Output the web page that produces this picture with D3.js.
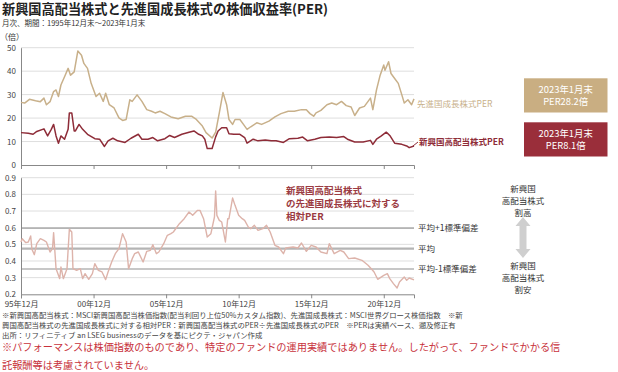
<!DOCTYPE html>
<html>
<head>
<meta charset="utf-8">
<script src="https://cdn.jsdelivr.net/npm/d3@7"></script>
<style>
  body { margin: 0; background: #fff; }
  svg text { font-family: "Noto Sans CJK JP", "Noto Sans", sans-serif; }
</style>
</head>
<body>
<div id="container"></div>
<script>
// chart values (monthly, thinned)
var growthPER = [
  ["1995-12",26.7],["1996-03",26.4],["1996-07",28],["1996-12",27.4],["1997-04",27],["1997-07",28.5],
  ["1997-09",25.7],["1997-12",27],["1998-03",31.3],["1998-05",32],["1998-07",29.2],["1998-09",34.1],
  ["1998-12",37.6],["1999-03",41.2],["1999-05",38.3],["1999-08",39.7],["1999-11",48.6],["2000-02",46.8],
  ["2000-04",43.3],["2000-07",41.2],["2000-10",34.8],["2001-02",29.2],["2001-05",30.6],["2001-08",27.1],
  ["2001-10",30.6],["2002-01",25.7],["2002-05",24.3],["2002-09",20.1],["2002-12",19],["2003-03",19.4],
  ["2003-06",27.8],["2003-08",27.1],["2003-12",29.9],["2004-04",27.1],["2004-08",23.6],["2004-12",22.9],
  ["2005-03",22.2],["2005-07",22.9],["2005-11",21.9],["2006-04",20.5],["2006-10",19.7],["2007-04",20.8],
  ["2007-09",20.8],["2008-01",19.4],["2008-06",16.6],["2008-09",13.8],["2009-02",11.5],["2009-05",14],
  ["2009-08",22.2],["2009-11",30.9],["2010-02",25.7],["2010-04",19.4],["2010-07",17.3],["2010-09",19.4],
  ["2011-01",19.4],["2011-04",17.3],["2011-07",15.2],["2011-10",16.3],["2012-03",18],["2012-07",17.3],
  ["2013-01",18.7],["2013-06",20.5],["2013-11",21.9],["2014-05",22.9],["2014-10",22.9],["2015-04",23.6],
  ["2015-08",23.6],["2015-11",21.9],["2016-02",20.8],["2016-04",22.2],["2016-08",23.3],["2017-01",25.7],
  ["2017-05",26.4],["2017-09",25.7],["2018-01",27.1],["2018-05",25.3],["2018-09",24.7],["2018-12",21.1],
  ["2019-04",24.3],["2019-08",25],["2020-01",28.5],["2020-03",23.6],["2020-06",32],["2020-09",38.3],
  ["2020-12",42.6],["2021-01",40.4],["2021-04",44],["2021-06",39],["2021-09",36.9],["2021-12",34.8],
  ["2022-03",29.9],["2022-05",26.4],["2022-08",27.8],["2022-11",25.7],["2023-01",28.2]
];

var emDivPER = [
  ["1995-12",13.8],["1996-06",13.5],["1996-10",13.1],["1997-01",14.3],["1997-07",15.4],["1997-10",12.4],
  ["1998-01",15.2],["1998-03",17.3],["1998-05",12.4],["1998-07",9.3],["1998-09",12.4],["1998-12",11],
  ["1999-03",15.2],["1999-04",22.2],["1999-06",22.2],["1999-08",14.5],["1999-09",14.5],["1999-12",17.3],
  ["2000-03",15.2],["2000-07",13.1],["2001-01",11.2],["2001-05",11],["2001-09",7.9],["2001-12",10.3],
  ["2002-04",11.4],["2002-08",10.3],["2003-02",9.6],["2003-07",11.4],["2004-01",13.1],["2004-04",11],
  ["2004-09",11],["2005-01",11.7],["2005-05",10.3],["2005-11",11.2],["2006-03",12.6],["2006-07",11.7],
  ["2007-01",13.1],["2007-07",14],["2007-11",14.5],["2008-03",13.1],["2008-06",12.4],["2008-08",11],
  ["2008-10",7],["2009-02",7],["2009-05",12],["2009-07",14.5],["2009-10",15.9],["2010-02",15.9],
  ["2010-04",13.3],["2010-08",13.1],["2011-01",13.1],["2011-05",11.7],["2011-07",9.3],["2011-12",11],
  ["2012-04",10.3],["2012-10",10.7],["2013-03",10.3],["2013-07",10.3],["2014-01",9.6],["2014-06",11.2],
  ["2015-01",11.4],["2015-05",11.9],["2015-09",10.3],["2016-03",11],["2016-08",11.7],["2017-03",11.9],
  ["2017-09",11.7],["2018-03",12.1],["2018-06",11],["2018-12",9.8],["2019-07",9.8],["2020-01",10.5],
  ["2020-03",8.8],["2020-06",11],["2020-10",12.4],["2021-02",14],["2021-05",12.6],["2021-09",9.3],
  ["2022-03",8.8],["2022-07",8.1],["2022-09",7.4],["2023-01",8.1]
];

var relativePER = [
  ["1995-12",0.514],["1996-01",0.534],["1996-04",0.51],["1996-06",0.514],["1996-08",0.55],["1996-09",0.47],
  ["1996-11",0.438],["1997-01",0.504],["1997-04",0.534],["1997-07",0.524],["1997-09",0.514],["1997-12",0.454],
  ["1998-02",0.474],["1998-03",0.57],["1998-05",0.354],["1998-06",0.334],["1998-08",0.294],["1998-09",0.364],
  ["1998-11",0.294],["1999-02",0.354],["1999-04",0.59],["1999-06",0.574],["1999-07",0.354],["1999-10",0.344],
  ["2000-01",0.354],["2000-03",0.294],["2000-05",0.324],["2000-08",0.29],["2000-11",0.324],["2001-01",0.384],
  ["2001-04",0.344],["2001-07",0.334],["2001-10",0.288],["2001-12",0.334],["2002-03",0.394],["2002-06",0.444],
  ["2002-09",0.474],["2002-12",0.564],["2003-03",0.514],["2003-05",0.354],["2003-08",0.414],["2003-10",0.444],
  ["2004-01",0.454],["2004-05",0.394],["2004-08",0.458],["2004-11",0.464],["2005-01",0.498],["2005-04",0.444],
  ["2005-06",0.454],["2005-10",0.504],["2006-01",0.554],["2006-04",0.564],["2006-06",0.574],["2006-11",0.624],
  ["2007-03",0.654],["2007-07",0.694],["2007-10",0.674],["2008-02",0.704],["2008-04",0.704],["2008-07",0.654],
  ["2008-10",0.544],["2009-01",0.564],["2009-04",0.664],["2009-05",0.82],["2009-06",0.674],["2009-08",0.644],
  ["2009-10",0.634],["2010-01",0.514],["2010-03",0.654],["2010-04",0.654],["2010-07",0.778],["2010-09",0.734],
  ["2010-12",0.674],["2011-03",0.654],["2011-05",0.644],["2011-08",0.604],["2011-10",0.594],["2012-01",0.614],
  ["2012-04",0.584],["2012-08",0.594],["2012-11",0.614],["2013-02",0.574],["2013-06",0.494],["2013-09",0.484],
  ["2014-01",0.444],["2014-03",0.478],["2014-09",0.484],["2015-01",0.478],["2015-04",0.508],["2015-08",0.458],
  ["2015-12",0.494],["2016-04",0.484],["2016-08",0.454],["2017-01",0.444],["2017-03",0.504],["2017-07",0.444],
  ["2017-12",0.464],["2018-03",0.454],["2018-07",0.414],["2018-12",0.418],["2019-06",0.404],["2019-11",0.374],
  ["2020-02",0.35],["2020-04",0.334],["2020-07",0.29],["2020-12",0.314],["2021-03",0.324],["2021-05",0.294],
  ["2021-08",0.264],["2021-11",0.238],["2022-01",0.274],["2022-05",0.304],["2022-07",0.284],["2022-09",0.298],
  ["2023-01",0.287]
];

// mean and +-1 std dev of the relative PER
var refValues = [0.597, 0.474, 0.352];
var refLabels = ["平均+1標準偏差", "平均", "平均-1標準偏差"];

var tickDates = ["1995-12", "2000-12", "2005-12", "2010-12", "2015-12", "2020-12"];
var tickLabels = ["95年12月", "00年12月", "05年12月", "10年12月", "15年12月", "20年12月"];
var topTicks = [0, 10, 20, 30, 40, 50];
var bottomTicks = [0.2, 0.3, 0.4, 0.5, 0.6, 0.7, 0.8, 0.9];

var footnotes = [
  "※新興国高配当株式：MSCI新興国高配当株価指数(配当利回り上位50%カスタム指数)、先進国成長株式：MSCI世界グロース株価指数　※新",
  "興国高配当株式の先進国成長株式に対する相対PER：新興国高配当株式のPER÷先進国成長株式のPER　※PERは実績ベース、遡及修正有",
  "出所：リフィニティブ an LSEG businessのデータを基にピクテ・ジャパン作成"
];
var disclaimer = [
  "※パフォーマンスは株価指数のものであり、特定のファンドの運用実績ではありません。したがって、ファンドでかかる信",
  "託報酬等は考慮されていません。"
];

var width = 618, height = 372;
var tan = "#c8b08a", wine = "#8e2c38", pink = "#ddb3aa";
var parse = d3.timeParse("%Y-%m");

var svg = d3.select("#container").append("svg")
  .attr("width", width)
  .attr("height", height);

// title
svg.append("text").attr("x", 2).attr("y", 13.5)
  .style("font-size", "13.2px").style("font-weight", "bold").attr("fill", "#222")
  .text("新興国高配当株式と先進国成長株式の株価収益率(PER)");
svg.append("text").attr("x", 2).attr("y", 25.5)
  .style("font-size", "7.5px").attr("fill", "#333")
  .text("月次、期間：1995年12月末～2023年1月末");
svg.append("text").attr("x", 0).attr("y", 40)
  .style("font-size", "8px").attr("fill", "#333")
  .text("（倍）");

// scales
var x = d3.scaleTime().domain([parse("1995-12"), parse("2023-01")]).range([21, 414]);
var yTop = d3.scaleLinear().domain([0, 50]).range([165, 47.7]);
var yBot = d3.scaleLinear().domain([0.2, 0.9]).range([294.3, 177.7]);

function styleAxis(g) {
  g.selectAll("text").attr("fill", "#444").style("font-size", "8px");
  g.selectAll(".domain").attr("stroke", "#888");
  g.selectAll(".tick line").attr("stroke", "#888");
}

// gridlines
svg.append("g").selectAll("line").data(topTicks.slice(1)).enter().append("line")
  .attr("x1", 21).attr("x2", 414)
  .attr("y1", function(d) { return yTop(d); }).attr("y2", function(d) { return yTop(d); })
  .attr("stroke", "#dedede").attr("stroke-width", 1);
svg.append("g").selectAll("line").data(bottomTicks.slice(1)).enter().append("line")
  .attr("x1", 21).attr("x2", 414)
  .attr("y1", function(d) { return yBot(d); }).attr("y2", function(d) { return yBot(d); })
  .attr("stroke", "#dedede").attr("stroke-width", 1);

// reference lines (mean, +-1sd)
svg.append("g").selectAll("line").data(refValues).enter().append("line")
  .attr("x1", 21).attr("x2", 414)
  .attr("y1", function(d) { return yBot(d); }).attr("y2", function(d) { return yBot(d); })
  .attr("stroke", "#b4b4b4").attr("stroke-width", function(d, i) { return i == 1 ? 2.2 : 1.6; });
svg.append("g").selectAll("text").data(refLabels).enter().append("text")
  .attr("x", 418).attr("y", function(d, i) { return yBot(refValues[i]); })
  .attr("dy", "0.35em")
  .style("font-size", "8.5px").attr("fill", "#333")
  .text(function(d) { return d; });

// axes
svg.append("g").attr("transform", "translate(21,0)")
  .call(d3.axisLeft(yTop).tickValues(topTicks).tickSize(0).tickPadding(5))
  .call(styleAxis);
svg.append("g").attr("transform", "translate(0,165)")
  .call(d3.axisBottom(x).tickValues(tickDates.map(parse)).tickSize(4).tickFormat(""))
  .call(styleAxis);
svg.append("g").attr("transform", "translate(21,0)")
  .call(d3.axisLeft(yBot).tickValues(bottomTicks).tickSize(0).tickPadding(5).tickFormat(d3.format(".1f")))
  .call(styleAxis);
svg.append("g").attr("transform", "translate(0,294.3)")
  .call(d3.axisBottom(x).tickValues(tickDates.map(parse)).tickSize(4).tickPadding(3)
    .tickFormat(function(d, i) { return tickLabels[i]; }))
  .call(styleAxis);

// lines
var lineTop = d3.line()
  .x(function(d) { return x(parse(d[0])); })
  .y(function(d) { return yTop(d[1]); });
var lineBot = d3.line()
  .x(function(d) { return x(parse(d[0])); })
  .y(function(d) { return yBot(d[1]); });

svg.append("path").datum(growthPER).attr("d", lineTop)
  .attr("fill", "none").attr("stroke", tan).attr("stroke-width", 1.5).attr("stroke-linejoin", "round");
svg.append("path").datum(emDivPER).attr("d", lineTop)
  .attr("fill", "none").attr("stroke", wine).attr("stroke-width", 1.5).attr("stroke-linejoin", "round");
svg.append("path").datum(relativePER).attr("d", lineBot)
  .attr("fill", "none").attr("stroke", pink).attr("stroke-width", 1.4).attr("stroke-linejoin", "round");

// series labels
var lastG = growthPER[growthPER.length - 1], lastE = emDivPER[emDivPER.length - 1];
svg.append("text").attr("x", 417).attr("y", yTop(lastG[1]) + 5).attr("dy", "0.35em")
  .style("font-size", "8.5px").attr("fill", tan).text("先進国成長株式PER");
svg.append("line").attr("x1", 413).attr("y1", yTop(lastE[1]))
  .attr("x2", 418).attr("y2", yTop(lastE[1]) - 4)
  .attr("stroke", wine).attr("stroke-width", 1);
svg.append("text").attr("x", 419).attr("y", yTop(lastE[1]) - 4.3).attr("dy", "0.35em")
  .style("font-size", "8.5px").style("font-weight", "bold").attr("fill", wine).text("新興国高配当株式PER");

// end-value boxes
var boxes = [
  {fill: "#c9ae82", lines: ["2023年1月末", "PER" + lastG[1] + "倍"], y: 78.3},
  {fill: "#9a2e3a", lines: ["2023年1月末", "PER" + lastE[1] + "倍"], y: 122.3}
];
boxes.forEach(function(b) {
  svg.append("rect").attr("x", 524).attr("y", b.y).attr("width", 83.5).attr("height", 34.2).attr("fill", b.fill);
  b.lines.forEach(function(t, i) {
    svg.append("text").attr("x", 565.7).attr("y", b.y + 15 + i * 12)
      .attr("text-anchor", "middle").style("font-size", "9.4px").attr("fill", "#fff").text(t);
  });
});

// relative PER annotation
["新興国高配当株式", "の先進国成長株式に対する", "相対PER"].forEach(function(t, i) {
  svg.append("text").attr("x", 286).attr("y", 193.5 + i * 13.3)
    .style("font-size", "9.5px").style("font-weight", "bold").attr("fill", "#9b3b42").text(t);
});

// expensive / cheap arrow
[["新興国", "高配当株式", "割高", 191.5], ["新興国", "高配当株式", "割安", 268.5]].forEach(function(a) {
  for (var i = 0; i < 3; i++) {
    svg.append("text").attr("x", 523).attr("y", a[3] + i * 12.4)
      .attr("text-anchor", "middle").style("font-size", "8.5px").attr("fill", "#333").text(a[i]);
  }
});
svg.append("path")
  .attr("d", "M523,217 L530.5,226 L526.5,226 L526.5,249 L530.5,249 L523,258 L515.5,249 L519.5,249 L519.5,226 L515.5,226 Z")
  .attr("fill", "#cfcfcf");

// footnotes
footnotes.forEach(function(t, i) {
  svg.append("text").attr("x", 2).attr("y", 318 + i * 10)
    .style("font-size", "7.4px").attr("fill", "#444").text(t);
});
disclaimer.forEach(function(t, i) {
  svg.append("text").attr("x", 2).attr("y", 351 + i * 17.5)
    .style("font-size", "10.2px").attr("fill", "#c8323c").text(t);
});
</script>
</body>
</html>
